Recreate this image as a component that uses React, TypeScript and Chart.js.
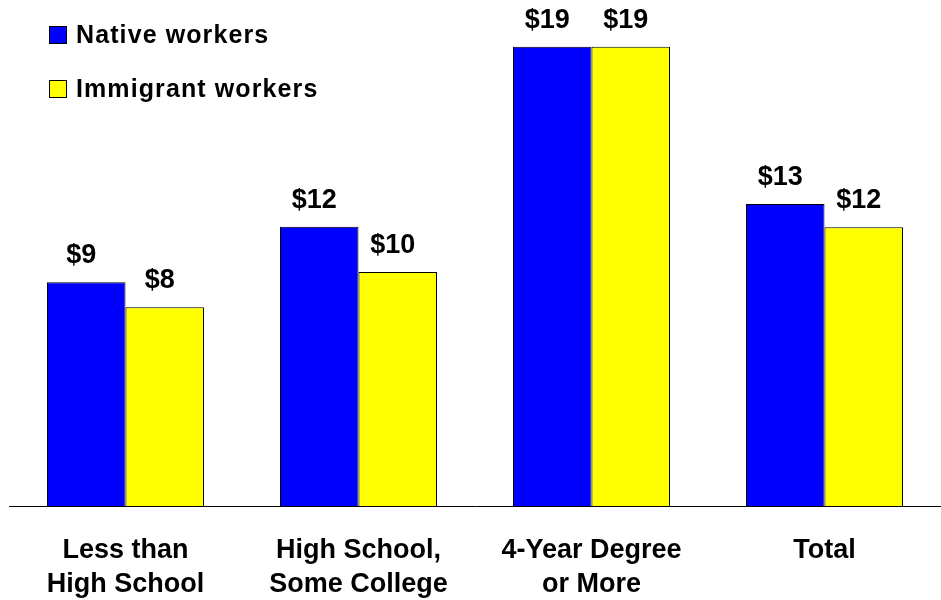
import React, { useEffect, useRef } from "react";
import { Chart, registerables } from "chart.js";

Chart.register(...registerables);

const FONT = "'Liberation Sans', Arial, Helvetica, sans-serif";

const categories: (string | string[])[] = [
  ["Less than", "High School"],
  ["High School,", "Some College"],
  ["4-Year Degree", "or More"],
  "Total",
];
const nativeWages = [9.45, 11.8, 19.41, 12.76];
const immigrantWages = [8.4, 9.89, 19.41, 11.78];
const seriesNames = ["Native workers", "Immigrant workers"];
const seriesColors = ["#0000FF", "#FFFF00"];

const valueLabelPlugin = {
  id: "valueLabels",
  afterDatasetsDraw(chart: any) {
    const ctx = chart.ctx;
    ctx.save();
    ctx.fillStyle = "#000";
    ctx.font = `bold 27px ${FONT}`;
    ctx.textAlign = "center";
    ctx.textBaseline = "alphabetic";
    chart.data.datasets.forEach((ds: any, di: number) => {
      const meta = chart.getDatasetMeta(di);
      meta.data.forEach((bar: any, i: number) => {
        const v = ds.data[i];
        ctx.fillText("$" + Math.round(v), bar.x - 5, bar.y - 19);
      });
    });
    ctx.restore();
  },
};

const legendPlugin = {
  id: "customLegend",
  afterDraw(chart: any) {
    const ctx = chart.ctx;
    ctx.save();
    ctx.font = `bold 25px ${FONT}`;
    (ctx as any).letterSpacing = "1.1px";
    ctx.textAlign = "left";
    ctx.textBaseline = "alphabetic";
    chart.data.datasets.forEach((ds: any, di: number) => {
      const top = 26 + di * 54;
      ctx.fillStyle = ds.backgroundColor;
      ctx.fillRect(49.5, top + 0.5, 17, 17);
      ctx.strokeStyle = "#000";
      ctx.lineWidth = 1;
      ctx.strokeRect(49.5, top + 0.5, 17, 17);
      ctx.fillStyle = "#000";
      ctx.fillText(ds.label, 76, top + 17.3);
    });
    ctx.restore();
  },
};

export default function App() {
  const ref = useRef<HTMLCanvasElement | null>(null);
  useEffect(() => {
    if (!ref.current) return;
    const chart = new Chart(ref.current, {
      type: "bar",
      data: {
        labels: categories,
        datasets: [
          {
            label: seriesNames[0],
            data: nativeWages,
            backgroundColor: seriesColors[0],
            borderColor: "#000",
            borderWidth: 1,
          },
          {
            label: seriesNames[1],
            data: immigrantWages,
            backgroundColor: seriesColors[1],
            borderColor: "#000",
            borderWidth: 1,
          },
        ],
      },
      options: {
        animation: false,
        responsive: true,
        maintainAspectRatio: false,
        layout: { padding: { left: 9, right: 0, top: 9, bottom: 0 } },
        datasets: { bar: { categoryPercentage: 0.674, barPercentage: 1 } },
        plugins: { legend: { display: false }, tooltip: { enabled: false } },
        scales: {
          x: {
            grid: { display: false, drawTicks: false },
            border: { display: true, color: "#000", width: 1 },
            ticks: {
              color: "#000",
              autoSkip: false,
              maxRotation: 0,
              padding: 28,
              font: { family: FONT, size: 27, weight: "bold", lineHeight: 34 / 27 },
            },
            afterFit: (s: any) => {
              s.height = 94;
            },
          },
          y: {
            display: false,
            min: 0,
            max: 21,
          },
        },
      },
      plugins: [valueLabelPlugin, legendPlugin],
    });
    return () => chart.destroy();
  }, []);
  return (
    <div style={{ position: "absolute", left: 0, top: 0, width: 941, height: 600, background: "#fff" }}>
      <canvas ref={ref} />
    </div>
  );
}
